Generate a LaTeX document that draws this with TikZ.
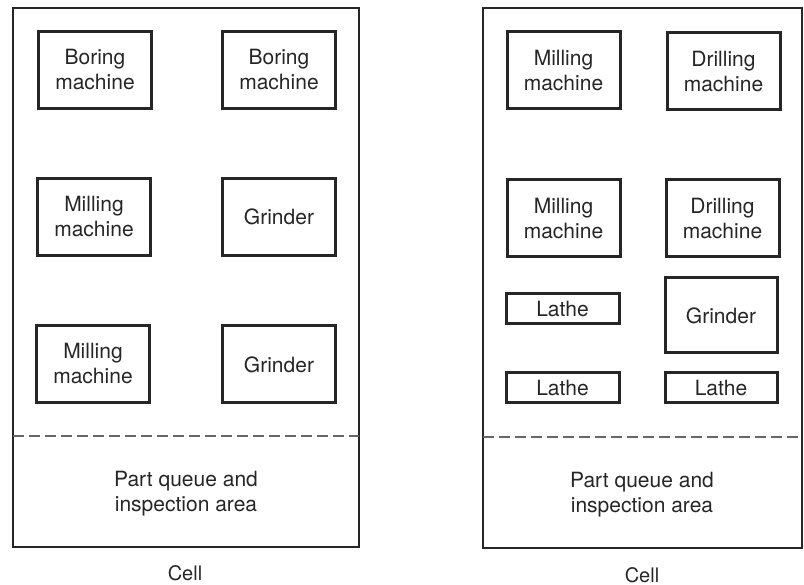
\documentclass[tikz,border=0pt]{standalone}
\usepackage{fontspec}
\setmainfont{TeX Gyre Heros}
\begin{document}
\begin{tikzpicture}[x=1pt,y=-1pt,
  ink/.style={draw=black!85},
  cellbox/.style={ink, line width=2.8pt, inner sep=0pt},
  mbox/.style={ink, line width=3pt, inner sep=0pt, align=center,
    minimum width=113pt, minimum height=77pt,
    font=\fontsize{21}{25}\selectfont, text=black!85},
  lbox/.style={mbox, minimum height=30pt},
  areatext/.style={align=center, font=\fontsize{21}{25}\selectfont, text=black!85},
  celltext/.style={font=\fontsize{20}{24}\selectfont, text=black!85},
  dashline/.style={draw=black!60, line width=1.6pt, dash pattern=on 11pt off 5pt}]
\useasboundingbox (0,0) rectangle (804,585);
% left cell
\node[cellbox, minimum width=346pt, minimum height=539pt] (cellL) at (186,277.5) {};
\node[mbox] (lb1) at (95,70) {Boring\\machine};
\node[mbox] (lb2) at (279,70) {Boring\\machine};
\node[mbox] (lm1) at (94,217) {Milling\\machine};
\node[mbox] (lg1) at (279,217) {Grinder};
\node[mbox] (lm2) at (93,364) {Milling\\machine};
\node[mbox] (lg2) at (279,364.5) {Grinder};
\coordinate (ldA) at (13,436);
\coordinate (ldB) at (359,436);
\draw[dashline] (ldA) -- (ldB);
\node[areatext] (lq) at (186,494) {Part queue and\\inspection area};
\node[celltext] (lcell) at (185,573) {Cell};
% right cell
\node[cellbox, minimum width=319pt, minimum height=540pt] (cellR) at (642.5,278) {};
\node[mbox] (rm1) at (563.5,70.5) {Milling\\machine};
\node[mbox] (rd1) at (723.5,71.5) {Drilling\\machine};
\node[mbox] (rm2) at (563.5,218.5) {Milling\\machine};
\node[mbox] (rd2) at (722.5,218.5) {Drilling\\machine};
\node[mbox, minimum width=112pt, minimum height=75pt] (rg) at (721,315.5) {Grinder};
\node[lbox] (rl1) at (562.5,309) {Lathe};
\node[lbox] (rl2) at (562.5,388) {Lathe};
\node[lbox, minimum width=112pt] (rl3) at (721,388) {Lathe};
\coordinate (rdA) at (483,437);
\coordinate (rdB) at (802,437);
\draw[dashline] (rdA) -- (rdB);
\node[areatext] (rq) at (642,495) {Part queue and\\inspection area};
\node[celltext] (rcell) at (642,575) {Cell};
\end{tikzpicture}
\end{document}
